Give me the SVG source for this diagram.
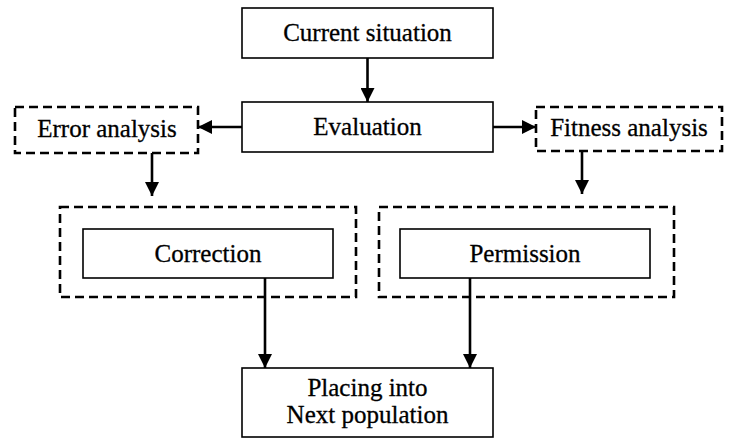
<svg xmlns="http://www.w3.org/2000/svg" width="734" height="441" viewBox="0 0 734 441">
<defs>
<marker id="ah" markerWidth="14" markerHeight="14" viewBox="0 0 14 14" refX="14" refY="7" orient="auto" markerUnits="userSpaceOnUse">
<path d="M0,0 L14,7 L0,14 Z" fill="#000"/>
</marker>
</defs>
<style>
.box{fill:#fff;stroke:#000;stroke-width:1.6}
.dash{fill:none;stroke:#000;stroke-width:2.6;stroke-dasharray:9,5}
.t{font-family:"Liberation Serif","Times New Roman",serif;font-size:25px;fill:#000;stroke:#000;stroke-width:0.3;text-anchor:middle}
.c{stroke:#000;stroke-width:2.6;fill:none;marker-end:url(#ah)}
</style>
<rect width="734" height="441" fill="#fff"/>
<g id="current">
<rect class="box" x="242" y="8" width="251" height="50"/>
<text class="t" x="367.5" y="41">Current situation</text>
</g>
<g id="evaluation">
<rect class="box" x="242" y="102" width="251" height="50"/>
<text class="t" x="367.5" y="135">Evaluation</text>
</g>
<g id="error">
<rect class="dash" x="15" y="107" width="183" height="46"/>
<text class="t" x="107" y="137">Error analysis</text>
</g>
<g id="fitness">
<rect class="dash" x="536" y="107" width="186" height="44"/>
<text class="t" x="629" y="136">Fitness analysis</text>
</g>
<g id="correction">
<rect class="dash" x="60" y="207" width="296" height="90"/>
<rect class="box" x="83" y="229" width="250" height="49"/>
<text class="t" x="208" y="262">Correction</text>
</g>
<g id="permission">
<rect class="dash" x="379" y="207" width="295" height="90"/>
<rect class="box" x="400" y="229" width="250" height="49"/>
<text class="t" x="525" y="262">Permission</text>
</g>
<g id="placing">
<rect class="box" x="242" y="368" width="251" height="69"/>
<text class="t" x="367.5" y="396">Placing into</text>
<text class="t" x="367.5" y="423">Next population</text>
</g>
<g id="connectors">
<line class="c" x1="367.5" y1="58" x2="367.5" y2="102"/>
<line class="c" x1="242" y1="127" x2="198" y2="127"/>
<line class="c" x1="493" y1="127" x2="536" y2="127"/>
<line class="c" x1="152" y1="153" x2="152" y2="196"/>
<line class="c" x1="582" y1="151" x2="582" y2="194"/>
<line class="c" x1="265" y1="278" x2="265" y2="368"/>
<line class="c" x1="470" y1="278" x2="470" y2="368"/>
</g>
</svg>
